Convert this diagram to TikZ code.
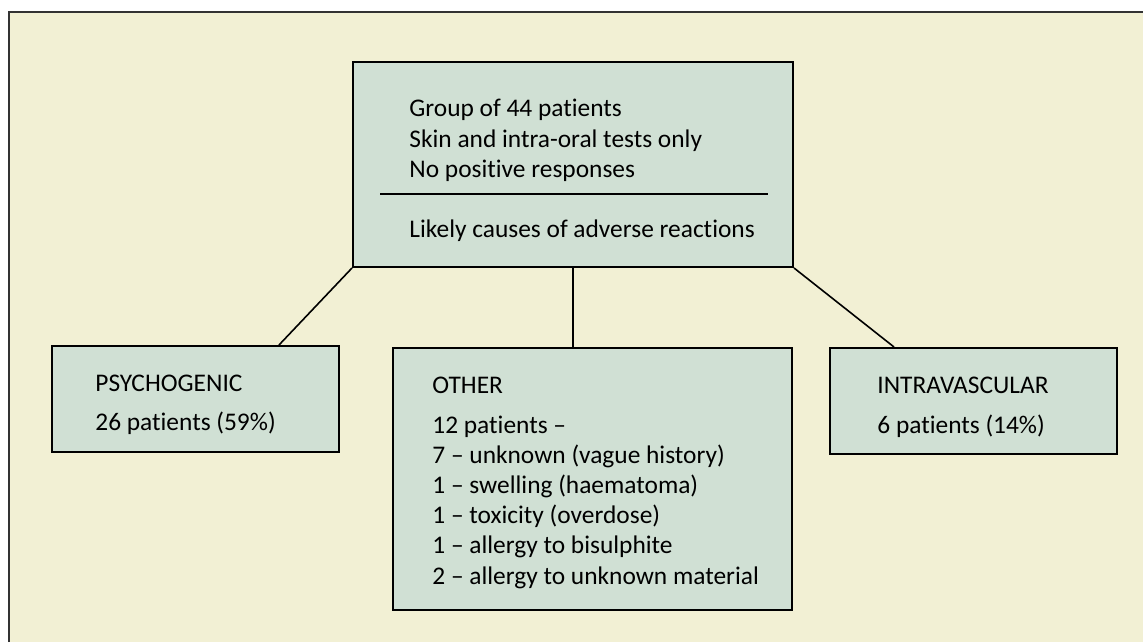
\documentclass[tikz,border=0pt]{standalone}
\usepackage{fontspec}
\setmainfont{Carlito}[Ligatures=NoCommon]
\usetikzlibrary{positioning}
\definecolor{cream}{RGB}{242,240,212}
\definecolor{sage}{RGB}{208,224,212}
\tikzset{
  box/.style={draw=black, line width=1pt, fill=sage, inner sep=0pt},
  txt/.style={anchor=base west, inner sep=0pt, font=\fontsize{12.7}{15}\selectfont},
  link/.style={line width=0.8pt}
}

\begin{document}
\begin{tikzpicture}[x=0.5pt,y=-0.5pt]
\useasboundingbox (0,0) rectangle (1143,642);
\fill[cream] (9,12) rectangle (1143,642);
\draw[line width=1pt, black!80] (9,642) -- (9,12) -- (1143,12);

% boxes
\node[box, minimum width=220pt, minimum height=102.5pt](group) at (573,164.5){};
\node[box, minimum width=143.5pt, minimum height=53pt](psy) at (195.5,399){};
\node[box, minimum width=199.5pt, minimum height=131pt](other) at (592.5,479){};
\node[box, minimum width=143.5pt, minimum height=53pt](intra) at (973.5,401){};

% top box
\node[txt](g1) at (409,116){Group of 44 patients};
\node[txt](g2) at (409,147){Skin and intra-oral tests only};
\node[txt](g3) at (409,177){No positive responses};
\draw[link] (380,194) -- (768,194);
\node[txt](g4) at (409,237){Likely causes of adverse reactions};

% left and right
\node[txt](p1) at (95,391){PSYCHOGENIC};
\node[txt](p2) at (95,430){26 patients (59\%)};
\node[txt](i1) at (877,393){INTRAVASCULAR};
\node[txt](i2) at (877,433){6 patients (14\%)};

% middle
\node[txt](o0) at (432,393){OTHER};
\foreach \i/\y/\t in {1/433/12 patients --,2/463/7 -- unknown (vague history),
  3/493/1 -- swelling (haematoma),4/523/1 -- toxicity (overdose),
  5/553/1 -- allergy to bisulphite,6/584/2 -- allergy to unknown material}
 \node[txt](o\i) at (432,\y){\t};

% links
\draw[link] (group.south west) -- ([xshift=-30.5pt]psy.north east);
\draw[link] (group.south) -- (group.south |- other.north);
\draw[link] (group.south east) -- ([xshift=32.5pt]intra.north west);
\end{tikzpicture}
\end{document}
